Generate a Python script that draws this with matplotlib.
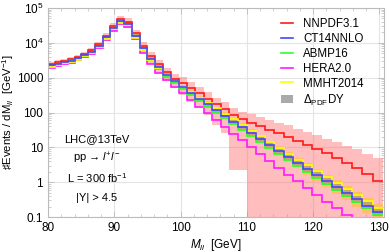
import numpy as np
import matplotlib
matplotlib.use("Agg")
import matplotlib.pyplot as plt
from matplotlib.lines import Line2D
from matplotlib.patches import Patch

plt.rcParams['font.family'] = ['Liberation Sans', 'DejaVu Sans']
plt.rcParams['mathtext.fontset'] = 'custom'
plt.rcParams['mathtext.rm'] = 'Liberation Sans'
plt.rcParams['mathtext.it'] = 'Liberation Sans:italic'

# ---- data (log10 of #events / dM per bin, 40 log-spaced bins 80-130 GeV) ----
m_lo, m_hi, n_bins = 80.0, 130.6, 40

nnpdf = [3.39, 3.44, 3.49, 3.53, 3.60, 3.69, 3.79, 3.96, 4.20, 4.48,
         4.68, 4.61, 4.27, 3.91, 3.62, 3.38, 3.15, 2.97, 2.86, 2.71,
         2.55, 2.40, 2.24, 2.09, 1.93, 1.80, 1.70, 1.60, 1.50, 1.40,
         1.30, 1.19, 1.08, 0.96, 0.84, 0.70, 0.56, 0.41, 0.23, 0.04]
ct14 = [3.35, 3.40, 3.45, 3.49, 3.56, 3.65, 3.75, 3.92, 4.16, 4.43,
        4.62, 4.55, 4.20, 3.84, 3.54, 3.30, 3.07, 2.89, 2.72, 2.56,
        2.39, 2.23, 2.06, 1.90, 1.74, 1.57, 1.40, 1.23, 1.06, 0.89,
        0.72, 0.55, 0.38, 0.21, 0.03, -0.14, -0.32, -0.49, -0.67, -0.85]
abmp = [3.33, 3.38, 3.43, 3.47, 3.54, 3.63, 3.73, 3.90, 4.14, 4.41,
        4.59, 4.52, 4.17, 3.81, 3.51, 3.26, 3.03, 2.84, 2.67, 2.50,
        2.33, 2.16, 1.99, 1.83, 1.67, 1.49, 1.32, 1.15, 0.98, 0.81,
        0.64, 0.47, 0.30, 0.13, -0.05, -0.22, -0.40, -0.57, -0.75, -0.94]
hera = [3.29, 3.34, 3.39, 3.43, 3.50, 3.58, 3.68, 3.84, 4.08, 4.35,
        4.53, 4.46, 4.10, 3.72, 3.40, 3.14, 2.92, 2.73, 2.55, 2.36,
        2.17, 1.98, 1.78, 1.59, 1.39, 1.20, 1.00, 0.81, 0.61, 0.42,
        0.22, 0.03, -0.17, -0.36, -0.56, -0.75, -0.95, -1.15, -1.34, -1.54]
mmht = [3.31, 3.36, 3.41, 3.45, 3.52, 3.61, 3.71, 3.88, 4.12, 4.39,
        4.57, 4.50, 4.15, 3.79, 3.52, 3.29, 3.07, 2.90, 2.74, 2.59,
        2.43, 2.28, 2.12, 1.96, 1.81, 1.65, 1.48, 1.32, 1.15, 0.98,
        0.82, 0.65, 0.48, 0.31, 0.14, -0.03, -0.20, -0.37, -0.55, -0.73]

# NNPDF uncertainty band (log10)
nnpdf_up = [3.45, 3.50, 3.55, 3.59, 3.66, 3.75, 3.85, 4.02, 4.27, 4.56,
            4.78, 4.71, 4.38, 4.03, 3.74, 3.50, 3.28, 3.11, 3.01, 2.87,
            2.72, 2.58, 2.43, 2.29, 2.14, 2.02, 1.95, 1.87, 1.79, 1.71,
            1.63, 1.54, 1.45, 1.35, 1.25, 1.15, 1.05, 0.95, 0.82, 0.70]
nnpdf_dn = [3.27, 3.32, 3.37, 3.41, 3.48, 3.56, 3.66, 3.82, 4.06, 4.33,
            4.51, 4.44, 4.08, 3.70, 3.38, 3.12, 2.90, 2.71, 2.50, 2.31,
            2.12, 1.93, 1.64, 1.41, 0.34, 0.34, -3.0, -3.0, -3.0, -3.0,
            -3.0, -3.0, -3.0, -3.0, -3.0, -3.0, -3.0, -3.0, -3.0, -3.0]
# MMHT-like (orange) band half width and Delta_PDF DY (grey) band half width, log10
orange_hw = [0.04, 0.04, 0.04, 0.04, 0.04, 0.04, 0.05, 0.05, 0.05, 0.05,
             0.05, 0.05, 0.06, 0.06, 0.06, 0.07, 0.07, 0.08, 0.08, 0.09,
             0.09, 0.10, 0.10, 0.11, 0.11, 0.12, 0.12, 0.13, 0.13, 0.14,
             0.14, 0.15, 0.16, 0.17, 0.18, 0.19, 0.20, 0.21, 0.22, 0.23]
grey_hw = [0.03, 0.03, 0.03, 0.03, 0.03, 0.03, 0.03, 0.03, 0.03, 0.03,
           0.04, 0.04, 0.04, 0.04, 0.04, 0.05, 0.05, 0.05, 0.05, 0.05,
           0.06, 0.06, 0.06, 0.06, 0.07, 0.07, 0.07, 0.07, 0.08, 0.08,
           0.08, 0.09, 0.09, 0.09, 0.10, 0.10, 0.10, 0.11, 0.11, 0.12]

labels = ["NNPDF3.1", "CT14NNLO", "ABMP16", "HERA2.0", "MMHT2014"]
band_label = r"$\Delta_{\mathrm{PDF}}$DY"
info = ["LHC@13TeV", r"pp → $l^{+}l^{-}$", r"L = 300 fb$^{-1}$", "|Y| > 4.5"]

# ---- plotting ----
edges = np.geomspace(m_lo, m_hi, n_bins + 1)
P = lambda a: 10.0 ** np.asarray(a, dtype=float)

fig = plt.figure(figsize=(3.9, 2.52), dpi=100)
ax = fig.add_axes([48/390, 1-217/252, (384-48)/390, (217-8)/252])

c_red, c_blue, c_green, c_mag, c_yel = '#ff1a1a', '#4646ff', '#2cff2c', '#ff1aff', '#ffff00'

ax.stairs(P(nnpdf_up), edges, baseline=P(nnpdf_dn), fill=True,
          color='#ff6e6e', alpha=0.45, lw=0)
ct = np.asarray(ct14)
ax.stairs(P(ct + orange_hw), edges, baseline=P(ct - orange_hw), fill=True,
          color='#ffc04d', alpha=0.75, lw=0)
ax.stairs(P(ct + grey_hw), edges, baseline=P(ct - grey_hw), fill=True,
          color='#808080', alpha=0.45, lw=0)

lw = 1.2
ax.stairs(P(nnpdf), edges, color=c_red, lw=lw, baseline=None)
ax.stairs(P(hera), edges, color=c_mag, lw=lw, baseline=None)
ax.stairs(P(abmp), edges, color=c_green, lw=lw, baseline=None)
ax.stairs(P(mmht), edges, color=c_yel, lw=lw, baseline=None)
ax.stairs(P(ct14), edges, color=c_blue, lw=lw, baseline=None)

ax.set_yscale('log')
ax.set_xlim(80, 130.7)
ax.set_ylim(0.1, 1e5)
ax.set_xticks([80, 90, 100, 110, 120, 130])
ax.set_xticks(np.arange(80, 131, 2), minor=True)
yt = [0.1, 1, 10, 100, 1000, 1e4, 1e5]
ax.set_yticks(yt)
ax.set_yticklabels(['0.1', '1', '10', '100', '1000', r'10$^4$', r'10$^5$'])
ax.grid(True, which='major', color='#e4e4e4', lw=0.8)
ax.set_axisbelow(True)
ax.tick_params(which='both', direction='in', top=True, right=True, labelsize=8.5,
               colors='#bbbbbb', labelcolor='black')
ax.tick_params(which='major', length=4, width=0.6)
ax.tick_params(which='minor', length=2, width=0.5)
for s in ax.spines.values():
    s.set_color('#bbbbbb')
    s.set_linewidth(0.8)

ax.set_xlabel(r"$M_{ll}$  [GeV]", fontsize=8.5, labelpad=2)
fig.text(8.5/390, 1-112/252, "♯Events / dM$_{ll}$  [GeV$^{-1}$]", rotation=90,
         ha='center', va='center', fontsize=8.2)

for k, t in enumerate(info):
    fig.text(97/390, 1-(139 + k*19.7)/252, t, ha='center', va='center', fontsize=8)

handles = [Line2D([], [], color=c, lw=1.2) for c in (c_red, c_blue, c_green, c_mag, c_yel)]
handles.append(Patch(facecolor='#aaaaaa', edgecolor='none'))
fig.legend(handles, labels + [band_label], loc='upper left',
           bbox_to_anchor=(281/390, 1-18/252), frameon=False, fontsize=8.3,
           handlelength=1.0, handletextpad=0.9, labelspacing=0.25,
           borderpad=0, borderaxespad=0)

fig.savefig("out.png", dpi=100)
